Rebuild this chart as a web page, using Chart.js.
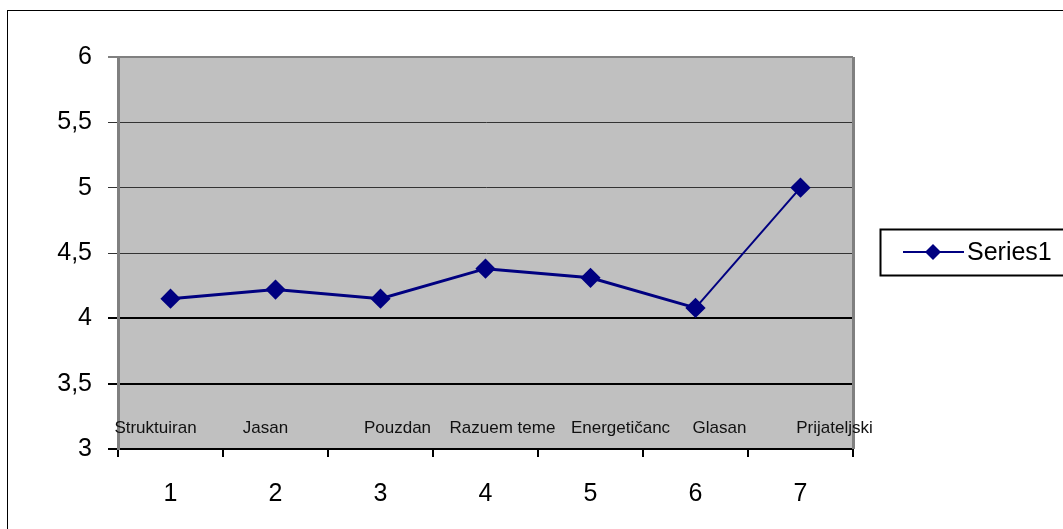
<!DOCTYPE html>
<html>
<head>
<meta charset="utf-8">
<script src="https://cdn.jsdelivr.net/npm/chart.js@4/dist/chart.umd.min.js"></script>
<style>
html,body{margin:0;padding:0;background:#fff;}
#wrap{width:1063px;height:529px;position:relative;}
</style>
</head>
<body>
<div id="wrap"><canvas id="c" width="1063" height="529"></canvas></div>
<script>
const categories = ['1', '2', '3', '4', '5', '6', '7'];
const innerLabels = ['Struktuiran', 'Jasan', 'Pouzdan', 'Razuem teme', 'Energetičanc', 'Glasan', 'Prijateljski'];
const series1 = [4.15, 4.22, 4.15, 4.38, 4.31, 4.08, 5.0];
const seriesName = 'Series1';
const yMin = 3, yMax = 6, yStep = 0.5;

const FONT = '"Liberation Sans", Arial, sans-serif';
const NAVY = '#000080';
const LABEL_NUDGE = [-15, -10, 17, 17, 30, 24, 34];

const decor = {
  id: 'decor',
  beforeDraw(chart) {
    const {ctx, chartArea: a} = chart;
    ctx.save();
    ctx.fillStyle = '#fff';
    ctx.fillRect(0, 0, chart.width, chart.height);
    ctx.fillStyle = '#C0C0C0';
    ctx.fillRect(a.left, a.top, a.right - a.left, a.bottom - a.top);
    ctx.strokeStyle = '#000';
    ctx.lineWidth = 1;
    ctx.strokeRect(7.5, 10.5, 1200, 700);
    ctx.restore();
  },
  afterDatasetsDraw(chart) {
    const {ctx, chartArea: a} = chart;
    const xs = chart.scales.x;
    ctx.save();
    ctx.strokeStyle = '#808080';
    ctx.lineWidth = 3;
    ctx.beginPath();
    ctx.moveTo(a.right + 0.5, a.top);
    ctx.lineTo(a.right + 0.5, a.bottom);
    ctx.stroke();
    ctx.fillStyle = '#111';
    ctx.font = '17px ' + FONT;
    ctx.textAlign = 'center';
    ctx.textBaseline = 'middle';
    innerLabels.forEach((t, i) => {
      const x = xs.getPixelForValue(i) + LABEL_NUDGE[i];
      ctx.fillText(t, x, a.bottom - 21);
    });
    const lx = 880, ly = 229;
    ctx.strokeStyle = '#000';
    ctx.lineWidth = 2;
    ctx.strokeRect(lx + 0.5, ly + 0.5, 300, 46);
    const my = ly + 23;
    ctx.strokeStyle = NAVY;
    ctx.lineWidth = 2;
    ctx.beginPath();
    ctx.moveTo(903, my);
    ctx.lineTo(964, my);
    ctx.stroke();
    ctx.fillStyle = NAVY;
    ctx.beginPath();
    ctx.moveTo(933, my - 8);
    ctx.lineTo(941, my);
    ctx.lineTo(933, my + 8);
    ctx.lineTo(925, my);
    ctx.closePath();
    ctx.fill();
    ctx.fillStyle = '#000';
    ctx.font = '25px ' + FONT;
    ctx.textAlign = 'left';
    ctx.fillText(chart.data.datasets[0].label, 967, my + 1);
    ctx.restore();
  }
};

new Chart(document.getElementById('c'), {
  type: 'line',
  data: {
    labels: categories,
    datasets: [{
      label: seriesName,
      data: series1,
      borderColor: NAVY,
      backgroundColor: NAVY,
      borderWidth: 3,
      pointStyle: 'rectRot',
      pointRadius: 8,
      pointHoverRadius: 8,
      pointBackgroundColor: NAVY,
      pointBorderColor: NAVY,
      tension: 0,
      segment: {
        borderWidth: c => c.p1DataIndex === 6 ? 2 : 3
      }
    }]
  },
  options: {
    responsive: false,
    animation: false,
    devicePixelRatio: 1,
    layout: {padding: {top: 57, right: 210, bottom: 0, left: 0}},
    plugins: {legend: {display: false}, tooltip: {enabled: false}},
    scales: {
      x: {
        type: 'category',
        offset: true,
        afterFit: s => { s.height = 80; },
        grid: {
          offset: true,
          drawOnChartArea: false,
          drawTicks: true,
          tickLength: 8,
          color: '#000',
          lineWidth: 2
        },
        border: {display: true, color: '#000', width: 2},
        ticks: {color: '#000', font: {size: 25, family: FONT}, padding: 22}
      },
      y: {
        min: yMin,
        max: yMax,
        afterFit: s => { s.width = 118; },
        ticks: {
          stepSize: yStep,
          color: '#000',
          padding: 16,
          font: {size: 25, family: FONT},
          callback: v => String(v).replace('.', ',')
        },
        grid: {
          tickLength: 10,
          color: c => {
            const v = c.tick ? c.tick.value : null;
            if (v === 6) return '#808080';
            if (v === 4 || v === 3.5 || v === 3) return '#000';
            return '#333';
          },
          lineWidth: c => {
            const v = c.tick ? c.tick.value : null;
            if (v === 4 || v === 3.5 || v === 3 || v === 6) return 2;
            return 1;
          }
        },
        border: {display: true, color: '#808080', width: 3}
      }
    }
  },
  plugins: [decor]
});
</script>
</body>
</html>
